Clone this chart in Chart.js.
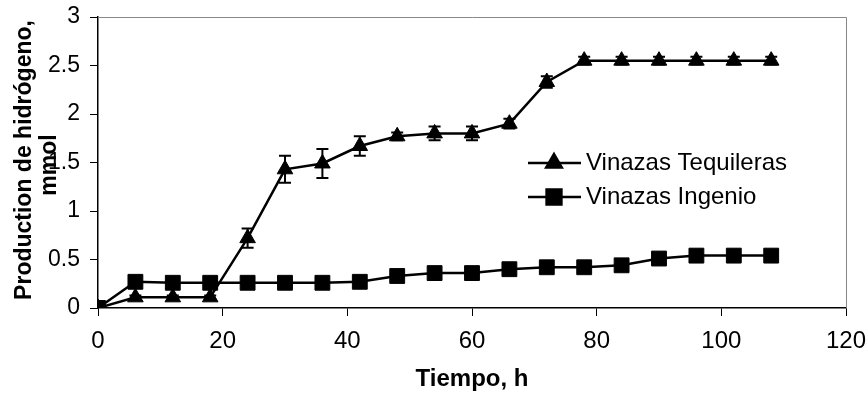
<!DOCTYPE html>
<html>
<head>
<meta charset="utf-8">
<script src="https://cdn.jsdelivr.net/npm/chart.js@4/dist/chart.umd.min.js"></script>
<style>
  body { margin: 0; background: #fff; }
  #wrap { width: 867px; height: 398px; position: relative; }
</style>
</head>
<body>
<div id="wrap"><canvas id="hydrogen"></canvas></div>
<script>
// DATA
const hours = [0, 6, 12, 18, 24, 30, 36, 42, 48, 54, 60, 66, 72, 78, 84, 90, 96, 102, 108];
const tequileras = [0, 0.11, 0.11, 0.11, 0.72, 1.43, 1.49, 1.67, 1.77, 1.80, 1.80, 1.90, 2.33, 2.55, 2.55, 2.55, 2.55, 2.55, 2.55];
const tequilerasErr = [0, 0.02, 0.02, 0.02, 0.10, 0.14, 0.15, 0.10, 0.04, 0.07, 0.07, 0.05, 0.06, 0.04, 0.04, 0.04, 0.04, 0.04, 0.04];
const ingenio = [0, 0.27, 0.26, 0.26, 0.26, 0.26, 0.26, 0.27, 0.33, 0.36, 0.36, 0.40, 0.42, 0.42, 0.44, 0.51, 0.54, 0.54, 0.54];
const seriesNames = ['Vinazas Tequileras', 'Vinazas Ingenio'];
const xTitle = 'Tiempo, h';
const yTitle = ['Production de hidrógeno,', 'mmol'];

const FONT = '"Liberation Sans", Arial, sans-serif';

// frame: grey top/right border round the plot area
const framePlugin = {
  id: 'frame',
  beforeDatasetsDraw(chart) {
    const { ctx, chartArea: a } = chart;
    ctx.save();
    ctx.strokeStyle = '#888';
    ctx.lineWidth = 1;
    ctx.beginPath();
    ctx.moveTo(a.left, a.top + 0.5);
    ctx.lineTo(a.right + 0.5, a.top + 0.5);
    ctx.lineTo(a.right + 0.5, a.bottom);
    ctx.stroke();
    ctx.restore();
  }
};

// error bars, drawn under the markers
const errorBarPlugin = {
  id: 'errorBars',
  beforeDatasetsDraw(chart) {
    const { ctx } = chart;
    const xs = chart.scales.x, ys = chart.scales.y;
    ctx.save();
    ctx.strokeStyle = '#000';
    ctx.lineWidth = 2;
    chart.data.datasets.forEach(ds => {
      if (!ds.errors) return;
      ds.data.forEach((p, i) => {
        const e = ds.errors[i];
        if (!e) return;
        const x = xs.getPixelForValue(p.x);
        const y1 = ys.getPixelForValue(p.y + e);
        const y2 = ys.getPixelForValue(p.y - e);
        ctx.beginPath();
        ctx.moveTo(x, y1); ctx.lineTo(x, y2);
        ctx.moveTo(x - 6, y1); ctx.lineTo(x + 6, y1);
        ctx.moveTo(x - 6, y2); ctx.lineTo(x + 6, y2);
        ctx.stroke();
      });
    });
    ctx.restore();
  }
};

// legend inside the plot + rotated y title overlapping ticks like the original
const overlayPlugin = {
  id: 'overlay',
  afterDraw(chart) {
    const { ctx } = chart;
    ctx.save();
    // y title
    ctx.fillStyle = '#000';
    ctx.font = 'bold 23px ' + FONT;
    ctx.textAlign = 'center';
    ctx.textBaseline = 'middle';
    ctx.translate(25, 160);
    ctx.rotate(-Math.PI / 2);
    ctx.fillText(yTitle[0], 0, 0);
    ctx.fillText(yTitle[1], -5, 25);
    ctx.restore();

    // legend
    ctx.save();
    const rows = [163, 197];
    chart.data.datasets.forEach((ds, i) => {
      const y = rows[i];
      ctx.strokeStyle = '#000';
      ctx.lineWidth = 2.5;
      ctx.beginPath();
      ctx.moveTo(528, y); ctx.lineTo(581, y);
      ctx.stroke();
      Chart.helpers.drawPoint(ctx, {
        pointStyle: ds.pointStyle, radius: ds.pointRadius, borderWidth: 1
      }, 554, y);
      ctx.fillStyle = '#000';
      ctx.fill();
      ctx.font = '24px ' + FONT;
      ctx.textAlign = 'left';
      ctx.textBaseline = 'middle';
      ctx.fillText(seriesNames[i], 586, y);
    });
    ctx.restore();
  }
};

const ctx = document.getElementById('hydrogen');

const data = {
  datasets: [
    {
      label: seriesNames[0],
      data: hours.map((h, i) => ({ x: h, y: tequileras[i] })),
      errors: tequilerasErr,
      borderColor: '#000',
      backgroundColor: '#000',
      borderWidth: 2.5,
      pointStyle: 'triangle',
      pointRadius: 9,
      pointBorderWidth: 1,
      order: 1,
    },
    {
      label: seriesNames[1],
      data: hours.map((h, i) => ({ x: h, y: ingenio[i] })),
      borderColor: '#000',
      backgroundColor: '#000',
      borderWidth: 2.5,
      pointStyle: 'rect',
      pointRadius: 10.5,
      pointBorderWidth: 1,
      order: 0,
    },
  ]
};

const config = {
  type: 'line',
  data: data,
  options: {
    responsive: true,
    maintainAspectRatio: false,
    animation: false,
    layout: { padding: { left: 0, top: 17, right: 21, bottom: 0 } },
    plugins: {
      legend: { display: false },
      tooltip: { enabled: false },
    },
    scales: {
      x: {
        type: 'linear',
        min: 0,
        max: 120,
        ticks: { stepSize: 20, color: '#000', padding: 11, font: { family: FONT, size: 24 } },
        grid: { drawOnChartArea: false, drawTicks: true, tickLength: 8, color: '#000' },
        border: { color: '#000', width: 1.5 },
        title: {
          display: true,
          text: xTitle,
          color: '#000',
          font: { family: FONT, size: 24, weight: 'bold' },
          padding: { top: 0, bottom: 4 },
        },
        afterFit(scale) {
          scale.height = 90;
          scale.paddingLeft = 0;
          scale.paddingRight = 0;
        },
      },
      y: {
        min: 0,
        max: 3,
        ticks: {
          stepSize: 0.5, color: '#000', padding: 10,
          font: { family: FONT, size: 23 },
          callback: v => String(v),
        },
        grid: { drawOnChartArea: false, drawTicks: true, tickLength: 8, color: '#000' },
        border: { color: '#000', width: 1.5 },
        afterFit(scale) {
          scale.width = 98;
          scale.paddingTop = 0;
          scale.paddingBottom = 0;
        },
      },
    },
  },
  plugins: [framePlugin, errorBarPlugin, overlayPlugin],
};

new Chart(ctx, config);
</script>
</body>
</html>
